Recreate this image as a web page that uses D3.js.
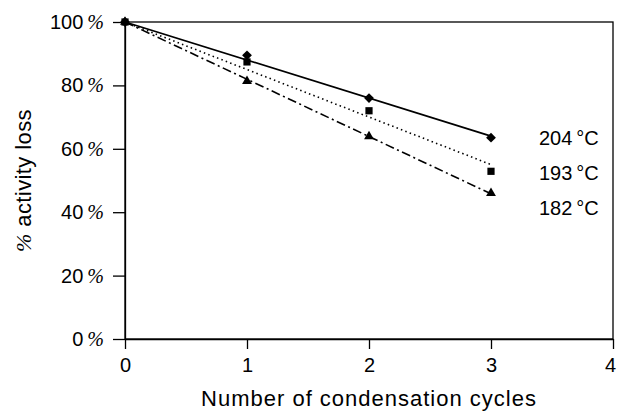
<!DOCTYPE html>
<html>
<head>
<meta charset="utf-8">
<script src="https://cdn.jsdelivr.net/npm/d3@7"></script>
<style>
  body { margin: 0; background: #fff; }
  text { font-family: "Liberation Sans", Arial, Helvetica, sans-serif; fill: #000; }
</style>
</head>
<body>
<div id="chart"></div>
<script>
var cycles = [0, 1, 2, 3];
var loss204 = [100, 89.5, 76, 63.5];
var loss193 = [100, 87.4, 72, 52.9];
var loss182 = [100, 81.3, 63.9, 46];
var seriesLabels = ["204\u2009\u00b0C", "193\u2009\u00b0C", "182\u2009\u00b0C"];
var xTicks = [0, 1, 2, 3, 4];
var yTicks = [0, 20, 40, 60, 80, 100];

var width = 618;
var height = 412;
var margin = { top: 22, right: 5, bottom: 73, left: 125 };

var series = [
  { name: seriesLabels[0], values: loss204, symbol: "diamond", dash: null },
  { name: seriesLabels[1], values: loss193, symbol: "square", dash: "1.5,3.2" },
  { name: seriesLabels[2], values: loss182, symbol: "triangle", dash: "9,3.5,2,3.5" }
];

var svg = d3.select("#chart").append("svg")
  .attr("width", width)
  .attr("height", height);

var x = d3.scaleLinear().domain([0, 4]).range([margin.left, width - margin.right]);
var y = d3.scaleLinear().domain([0, 100]).range([height - margin.bottom, margin.top]);

// frame
svg.append("rect")
  .attr("x", x(0)).attr("y", y(100))
  .attr("width", x(4) - x(0)).attr("height", y(0) - y(100))
  .attr("fill", "none").attr("stroke", "#000").attr("stroke-width", 1.3);

var xAxis = svg.append("g")
  .attr("transform", "translate(0," + y(0) + ")")
  .call(d3.axisBottom(x).tickValues(xTicks).tickSize(10).tickSizeOuter(0).tickPadding(9).tickFormat(d3.format("d")));

var yAxis = svg.append("g")
  .attr("transform", "translate(" + x(0) + ",0)")
  .call(d3.axisLeft(y).tickValues(yTicks).tickSize(12).tickSizeOuter(0).tickPadding(9).tickFormat(d3.format("d")));

[xAxis, yAxis].forEach(function (g) {
  g.select(".domain").attr("stroke-width", 1.3);
  g.selectAll(".tick line").attr("stroke-width", 1.3);
  g.selectAll("text").attr("font-size", 20).attr("font-family", null).attr("fill", "#000");
});

// last x label sits on the right edge
xAxis.selectAll(".tick text").filter(function (d) { return d === 4; }).attr("dx", -3);

yAxis.selectAll(".tick text")
  .append("tspan")
  .attr("font-family", "'Liberation Serif', 'Times New Roman', serif")
  .attr("font-style", "italic")
  .attr("dx", 4)
  .text("%");

// trend lines through (0, 100)
series.forEach(function (s) {
  var num = d3.sum(cycles, function (c, i) { return c * (s.values[i] - 100); });
  var den = d3.sum(cycles, function (c) { return c * c; });
  var slope = num / den;
  var xEnd = d3.max(cycles);
  svg.append("line")
    .attr("x1", x(0)).attr("y1", y(100))
    .attr("x2", x(xEnd)).attr("y2", y(100 + slope * xEnd))
    .attr("stroke", "#000")
    .attr("stroke-width", s.dash ? 1.6 : 1.7)
    .attr("stroke-dasharray", s.dash);
});

var symbols = {
  diamond: d3.symbol().type(d3.symbolSquare).size(48),
  square: d3.symbol().type(d3.symbolSquare).size(52),
  triangle: d3.symbol().type(d3.symbolTriangle).size(42)
};

series.forEach(function (s) {
  svg.selectAll(null)
    .data(cycles)
    .enter()
    .append("path")
    .attr("d", symbols[s.symbol])
    .attr("transform", function (c, i) {
      return "translate(" + x(c) + "," + y(s.values[i]) + ")" + (s.symbol === "diamond" ? " rotate(45)" : "");
    })
    .attr("fill", "#000");
});

// series labels
var labelTop = y(loss204[3]);
svg.selectAll(".series-label")
  .data(series)
  .enter()
  .append("text")
  .attr("class", "series-label")
  .attr("x", x(3) + 48)
  .attr("y", function (d, i) { return labelTop + i * 35; })
  .attr("dy", "0.35em")
  .attr("font-size", 20)
  .text(function (d) { return d.name; });

// axis titles
svg.append("text")
  .attr("x", (x(0) + x(4)) / 2)
  .attr("y", 406)
  .attr("text-anchor", "middle")
  .attr("font-size", 22)
  .attr("letter-spacing", 1)
  .text("Number of condensation cycles");

var yTitle = svg.append("text")
  .attr("transform", "translate(31," + ((y(0) + y(100)) / 2) + ") rotate(-90)")
  .attr("text-anchor", "middle")
  .attr("font-size", 22)
  .attr("letter-spacing", 0.4);
yTitle.append("tspan")
  .attr("font-family", "'Liberation Serif', 'Times New Roman', serif")
  .attr("font-style", "italic")
  .text("%");
yTitle.append("tspan").text(" activity loss");
</script>
</body>
</html>
